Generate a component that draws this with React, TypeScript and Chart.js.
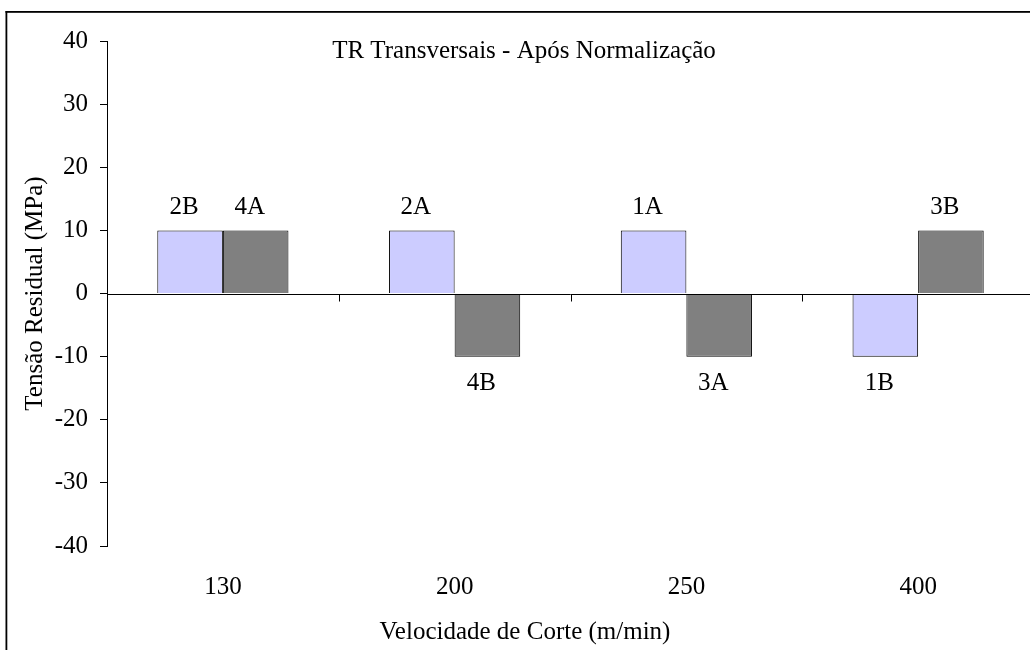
import React, { useEffect, useRef } from "react";
import { Chart, registerables } from "chart.js";

Chart.register(...registerables);

// ---- data ----
const categories = ["130", "200", "250", "400"];
const seriesLight = [10, 10, 10, -10];
const seriesDark = [10, -10, -10, 10];
const labelsLight = ["2B", "2A", "1A", "1B"];
const labelsDark = ["4A", "4B", "3A", "3B"];
const yTicks = [-40, -30, -20, -10, 0, 10, 20, 30, 40];
const chartTitle = "TR Transversais - Após Normalização";
const xTitle = "Velocidade de Corte (m/min)";
const yTitle = "Tensão Residual (MPa)";
const pointLabels = [labelsLight, labelsDark];

const FONT_FAMILY = "'Liberation Serif', 'Times New Roman', serif";
const FONT_SIZE = 25;
const W = 1060;
const H = 650;

const overlayPlugin = {
  id: "overlay",
  beforeDraw(chart: any) {
    const { ctx } = chart;
    ctx.save();
    ctx.fillStyle = "#ffffff";
    ctx.fillRect(0, 0, chart.width, chart.height);
    ctx.fillStyle = "#000000";
    ctx.fillRect(5.5, 11, chart.width, 1.8);
    ctx.fillRect(5.5, 11, 1.8, chart.height);
    ctx.restore();
  },
  afterDatasetsDraw(chart: any) {
    const { ctx, chartArea, scales } = chart;
    const x = scales.x;
    const y = scales.y;
    const y0 = Math.round(y.getPixelForValue(0)) + 0.5;
    ctx.save();
    ctx.strokeStyle = "#000000";
    ctx.lineWidth = 1;
    ctx.beginPath();
    ctx.moveTo(chartArea.left, y0);
    ctx.lineTo(chartArea.right, y0);
    for (let i = 1; i < categories.length; i++) {
      const bx = Math.round((x.getPixelForValue(i - 1) + x.getPixelForValue(i)) / 2) + 0.5;
      ctx.moveTo(bx, y0);
      ctx.lineTo(bx, y0 + 7);
    }
    ctx.stroke();

    // data labels
    ctx.fillStyle = "#000000";
    ctx.font = `${FONT_SIZE}px ${FONT_FAMILY}`;
    ctx.textAlign = "center";
    ctx.textBaseline = "middle";
    chart.data.datasets.forEach((ds: any, di: number) => {
      const meta = chart.getDatasetMeta(di);
      meta.data.forEach((el: any, i: number) => {
        const v = ds.data[i];
        const ty = v >= 0 ? el.y - 23 : el.y + 27;
        ctx.fillText(pointLabels[di][i], el.x - 6, ty);
      });
    });

    // x axis title
    ctx.fillText(xTitle, 525, 632);

    // chart title
    ctx.textBaseline = "alphabetic";
    ctx.fillText(chartTitle, 524, 58);
    ctx.restore();
  },
};

export default function App() {
  const ref = useRef<HTMLCanvasElement | null>(null);

  useEffect(() => {
    if (!ref.current) return;
    const font = { family: FONT_FAMILY, size: FONT_SIZE };
    const chart = new Chart(ref.current, {
      type: "bar",
      data: {
        labels: categories,
        datasets: [
          {
            data: seriesLight,
            backgroundColor: "#CCCCFF",
            borderColor: "#000000",
            borderWidth: 1,
            categoryPercentage: 0.566,
            barPercentage: 1,
          },
          {
            data: seriesDark,
            backgroundColor: "#808080",
            borderColor: "#000000",
            borderWidth: 1,
            categoryPercentage: 0.566,
            barPercentage: 1,
          },
        ],
      },
      options: {
        responsive: false,
        animation: false,
        devicePixelRatio: 1,
        layout: { padding: { left: 0, top: 41, right: W - 1034, bottom: 0 } },
        plugins: {
          legend: { display: false },
          tooltip: { enabled: false },
          title: { display: false },
        },
        scales: {
          x: {
            grid: { display: false, drawTicks: false },
            border: { display: false },
            ticks: { font, color: "#000000", padding: 26 },
            afterFit: (s: any) => {
              s.height = H - 546;
            },
          },
          y: {
            min: -40,
            max: 40,
            afterBuildTicks: (s: any) => {
              s.ticks = yTicks.map((v) => ({ value: v }));
            },
            ticks: { font, color: "#000000", padding: 12 },
            grid: {
              drawOnChartArea: false,
              drawTicks: true,
              tickLength: 7,
              color: "#000000",
            },
            border: { display: true, color: "#000000" },
            title: {
              display: true,
              text: yTitle,
              font,
              color: "#000000",
              padding: { top: 20, bottom: 0 },
            },
            afterFit: (s: any) => {
              s.width = 107;
            },
          },
        },
      },
      plugins: [overlayPlugin],
    } as any);
    return () => chart.destroy();
  }, []);

  return (
    <div
      style={{
        position: "fixed",
        left: 0,
        top: 0,
        width: 1030,
        height: 650,
        overflow: "hidden",
        background: "#ffffff",
      }}
    >
      <canvas ref={ref} width={W} height={H} style={{ display: "block", width: W, height: H }} />
    </div>
  );
}
